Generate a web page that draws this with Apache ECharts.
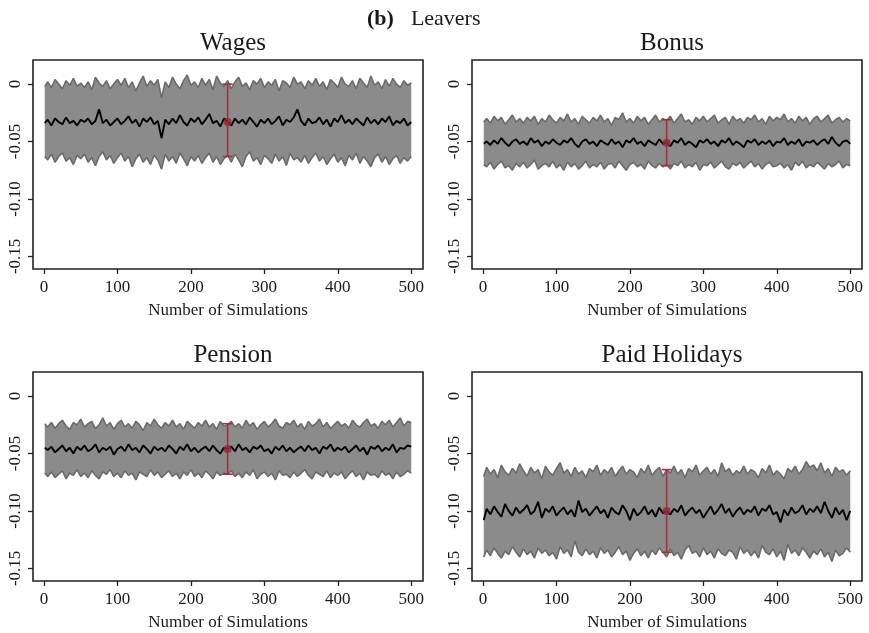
<!DOCTYPE html>
<html>
<head>
<meta charset="utf-8">
<script src="https://cdn.jsdelivr.net/npm/echarts@6/dist/echarts.min.js"></script>
<style>
  html, body { margin: 0; padding: 0; background: #fff; }
  #chart { width: 869px; height: 633px; }
</style>
</head>
<body>
<div id="chart"></div>
<script>
/* Leavers: estimates across 500 simulations, band = 95% CI per simulation.
   Values below are in thousandths (-33 => -0.033)
   every 5th simulation. */
;(function() {
  'use strict';

  var panelTitles = ['Wages', 'Bonus', 'Pension', 'Paid Holidays'];
  var xTicks = [0, 100, 200, 300, 400, 500];
  var yTicks = [0, -0.05, -0.10, -0.15];

  // point estimate + CI shown in red at simulation 250
  var markerSim = 250;
  var estimates = [-0.033, -0.051, -0.046, -0.100];
  var ciLower = [-0.063, -0.071, -0.068, -0.136];
  var ciUpper = [0.000, -0.031, -0.024, -0.064];

  var wagesMean = [-34,
    -31,-36,-30,-33,-35,-29,-34,-32,-36,-31,
    -33,-30,-35,-32,-22,-34,-31,-36,-33,-30,
    -35,-32,-28,-34,-31,-37,-30,-33,-29,-35,
    -32,-47,-31,-35,-30,-34,-27,-33,-36,-30,
    -33,-29,-35,-31,-26,-34,-32,-37,-30,-33,
    -36,-30,-34,-31,-35,-29,-33,-37,-31,-34,
    -30,-35,-32,-28,-36,-31,-33,-29,-22,-32,
    -36,-30,-34,-33,-29,-35,-31,-37,-30,-33,
    -27,-34,-31,-35,-30,-33,-36,-29,-34,-31,
    -35,-30,-33,-28,-36,-32,-34,-30,-36,-33];
  var wagesUpper = [-2,
    2,-3,4,0,-4,3,-1,5,-2,1,
    -3,2,-5,6,1,-2,3,-4,0,4,
    -1,5,-3,2,-6,1,7,-2,3,-1,
    4,-12,2,-3,6,0,-4,3,8,-1,
    2,-3,5,-1,4,-5,7,1,-2,3,
    -4,2,6,-2,1,-5,3,0,5,-3,
    2,-1,4,-6,3,1,-3,6,0,2,
    -4,3,-1,5,-2,2,-5,4,1,-3,
    6,0,-2,3,-4,5,1,-3,7,-1,
    2,-4,4,-2,5,0,-3,3,-1,1];
  var wagesLower = [-63,
    -66,-61,-68,-63,-60,-67,-64,-70,-62,-65,
    -61,-68,-64,-71,-63,-59,-66,-62,-69,-64,
    -60,-67,-63,-72,-65,-61,-68,-64,-70,-62,
    -66,-74,-61,-67,-63,-69,-60,-65,-71,-63,
    -67,-62,-69,-64,-60,-68,-63,-70,-65,-62,
    -68,-61,-66,-72,-63,-59,-67,-64,-70,-62,
    -65,-69,-61,-67,-63,-71,-60,-66,-64,-68,
    -62,-69,-64,-60,-67,-63,-70,-65,-61,-68,
    -64,-71,-62,-66,-60,-69,-63,-67,-72,-64,
    -61,-68,-63,-70,-65,-62,-69,-64,-67,-63];

  var bonusMean = [-52,
    -50,-53,-49,-52,-47,-51,-54,-50,-48,-52,
    -50,-53,-47,-51,-49,-54,-50,-52,-48,-51,
    -53,-49,-51,-47,-52,-55,-50,-48,-52,-50,
    -54,-49,-51,-53,-48,-52,-50,-55,-49,-51,
    -47,-52,-50,-54,-49,-51,-53,-48,-52,-51,
    -54,-49,-51,-47,-53,-50,-52,-55,-49,-51,
    -48,-52,-50,-54,-49,-51,-47,-53,-50,-52,
    -55,-49,-51,-48,-53,-50,-52,-49,-54,-50,
    -51,-47,-53,-50,-52,-48,-54,-50,-51,-49,
    -53,-50,-48,-52,-46,-51,-54,-50,-49,-52];
  var bonusUpper = [-33,
    -30,-34,-28,-32,-29,-35,-31,-27,-33,-30,
    -34,-29,-32,-28,-35,-30,-33,-27,-31,-34,
    -29,-32,-26,-33,-30,-35,-28,-31,-34,-29,
    -32,-27,-33,-30,-36,-29,-31,-25,-33,-30,
    -34,-28,-32,-29,-35,-31,-27,-33,-30,-32,
    -28,-34,-30,-26,-33,-31,-35,-29,-32,-28,
    -33,-30,-27,-34,-31,-29,-35,-28,-32,-30,
    -34,-29,-31,-27,-33,-30,-35,-28,-32,-29,
    -31,-26,-33,-30,-34,-28,-32,-29,-35,-30,
    -28,-33,-30,-27,-34,-31,-29,-33,-30,-32];
  var bonusLower = [-70,
    -72,-68,-74,-70,-67,-73,-71,-75,-69,-72,
    -68,-73,-70,-66,-74,-71,-69,-72,-67,-73,
    -70,-75,-68,-72,-69,-74,-71,-67,-73,-70,
    -72,-68,-74,-70,-69,-73,-67,-71,-75,-70,
    -68,-72,-70,-74,-67,-71,-73,-69,-72,-70,
    -74,-69,-71,-67,-73,-70,-72,-68,-75,-70,
    -71,-68,-73,-70,-67,-72,-74,-69,-71,-68,
    -73,-70,-67,-72,-69,-74,-70,-68,-72,-71,
    -69,-73,-70,-75,-68,-71,-67,-73,-70,-72,
    -68,-71,-74,-69,-72,-70,-67,-73,-70,-71];

  var pensionMean = [-45,
    -47,-44,-49,-46,-43,-48,-45,-50,-44,-47,
    -43,-48,-46,-42,-49,-45,-47,-44,-51,-46,
    -44,-48,-42,-47,-45,-49,-43,-46,-50,-44,
    -47,-45,-48,-43,-46,-50,-44,-47,-42,-48,
    -45,-49,-46,-44,-48,-43,-47,-50,-45,-46,
    -44,-48,-42,-47,-45,-49,-44,-46,-43,-48,
    -46,-50,-44,-47,-43,-48,-45,-49,-46,-44,
    -48,-43,-47,-45,-50,-44,-46,-42,-48,-45,
    -47,-44,-49,-46,-43,-48,-45,-51,-44,-46,
    -43,-48,-45,-47,-42,-49,-45,-46,-43,-44];
  var pensionUpper = [-24,
    -27,-23,-28,-24,-21,-26,-29,-23,-25,-20,
    -27,-24,-22,-28,-25,-19,-26,-23,-29,-24,
    -21,-27,-24,-28,-22,-25,-30,-23,-26,-20,
    -25,-28,-23,-26,-21,-27,-24,-29,-22,-25,
    -28,-23,-26,-21,-27,-24,-29,-22,-26,-25,
    -22,-27,-24,-28,-21,-26,-23,-29,-25,-22,
    -27,-24,-20,-26,-28,-23,-25,-21,-27,-24,
    -29,-22,-26,-24,-20,-27,-23,-28,-25,-22,
    -26,-24,-28,-21,-25,-27,-23,-20,-26,-24,
    -28,-22,-25,-21,-27,-23,-19,-26,-22,-23];
  var pensionLower = [-67,
    -70,-66,-71,-68,-65,-72,-67,-69,-64,-70,
    -67,-71,-65,-69,-72,-66,-68,-64,-70,-67,
    -71,-65,-69,-67,-73,-66,-68,-70,-64,-69,
    -66,-71,-68,-65,-70,-67,-72,-66,-69,-64,
    -70,-67,-71,-65,-68,-72,-66,-69,-67,-68,
    -65,-70,-67,-71,-66,-69,-64,-72,-68,-66,
    -70,-67,-73,-65,-69,-68,-71,-66,-70,-67,
    -64,-69,-72,-66,-68,-70,-65,-71,-67,-69,
    -66,-72,-68,-65,-70,-67,-73,-66,-69,-68,
    -71,-65,-69,-67,-72,-66,-70,-68,-65,-67];

  var holidaysMean = [-108,
    -98,-103,-96,-101,-105,-94,-100,-104,-97,-102,
    -99,-95,-103,-100,-92,-106,-98,-101,-96,-104,
    -100,-97,-103,-99,-105,-91,-101,-98,-104,-100,
    -96,-102,-99,-106,-97,-101,-103,-95,-100,-108,
    -98,-104,-101,-96,-103,-99,-105,-97,-102,-100,
    -103,-98,-101,-95,-104,-100,-97,-102,-99,-106,
    -101,-96,-103,-99,-94,-102,-98,-105,-100,-97,
    -103,-99,-101,-96,-104,-98,-100,-95,-103,-101,
    -110,-99,-104,-97,-102,-100,-95,-103,-98,-101,
    -96,-102,-92,-100,-106,-97,-103,-99,-108,-100];
  var holidaysUpper = [-70,
    -62,-68,-64,-71,-60,-66,-69,-63,-67,-59,
    -65,-70,-62,-67,-64,-72,-61,-66,-69,-63,
    -58,-67,-64,-70,-62,-68,-65,-71,-63,-66,
    -60,-69,-64,-67,-62,-70,-65,-61,-68,-64,
    -66,-71,-63,-67,-60,-69,-65,-62,-70,-64,
    -67,-61,-68,-64,-71,-63,-66,-60,-69,-65,
    -62,-68,-64,-70,-58,-66,-63,-69,-65,-67,
    -61,-68,-64,-66,-71,-63,-67,-60,-69,-65,
    -68,-72,-63,-66,-61,-68,-64,-57,-62,-60,
    -65,-58,-67,-63,-70,-62,-66,-64,-69,-65];
  var holidaysLower = [-140,
    -134,-139,-132,-137,-141,-135,-138,-131,-136,-140,
    -133,-138,-135,-141,-132,-137,-134,-139,-136,-142,
    -131,-137,-134,-140,-126,-136,-139,-133,-138,-135,
    -141,-132,-137,-134,-140,-136,-131,-138,-135,-143,
    -137,-133,-139,-135,-141,-134,-138,-132,-136,-140,
    -133,-139,-136,-142,-134,-130,-137,-135,-140,-132,
    -138,-135,-141,-133,-137,-139,-134,-136,-142,-131,
    -137,-134,-139,-135,-141,-130,-136,-138,-133,-140,
    -135,-143,-129,-137,-134,-139,-132,-136,-141,-135,
    -138,-133,-140,-136,-144,-134,-139,-137,-132,-136];

  var meanSeries = [wagesMean, bonusMean, pensionMean, holidaysMean];
  var upperSeries = [wagesUpper, bonusUpper, pensionUpper, holidaysUpper];
  var lowerSeries = [wagesLower, bonusLower, pensionLower, holidaysLower];

  // simulation number of each stored point (every 5th run, first run is 1)
  var sims = wagesMean.map(function(_, i) { return i === 0 ? 1 : i * 5; });

  var FONT = '"Liberation Serif", "Times New Roman", serif';
  var TXT = '#1a1a1a';
  var BAND = '#8b8b8b';
  var EDGE = '#6a6a6a';
  var RED = '#a3303c';
  var FRAME = '#222';

  var gridBoxes = [
    { left: 33, top: 60, width: 390, height: 209 },
    { left: 472, top: 60, width: 390, height: 209 },
    { left: 33, top: 372, width: 390, height: 209 },
    { left: 472, top: 372, width: 390, height: 209 },
  ];

  function pts(arr) {
    return arr.map(function(v, i) { return [sims[i], v / 1000]; });
  }

  // shaded band between upper and lower bounds, drawn through the axis scales
  function bandRenderer(up, lo) {
    return function(params, api) {
      var poly = [], i;
      for (i = 0; i < up.length; i++) poly.push(api.coord([sims[i], up[i] / 1000]));
      for (i = lo.length - 1; i >= 0; i--) poly.push(api.coord([sims[i], lo[i] / 1000]));
      return { type: 'polygon', shape: { points: poly }, style: { fill: BAND } };
    };
  }

  var grids = [], xAxes = [], yAxes = [], series = [], titles = [];

  titles.push({
    text: '{b|(b)}Leavers',
    left: 362, top: 3, textAlign: 'left',
    textStyle: {
      fontFamily: FONT, fontSize: 22, fontWeight: 'normal', color: TXT,
      rich: { b: { fontFamily: FONT, fontSize: 22, fontWeight: 'bold', color: TXT, padding: [0, 17, 0, 0] } },
    },
  });

  gridBoxes.forEach(function(g, k) {
    grids.push({
      left: g.left, top: g.top, width: g.width, height: g.height,
      show: true, borderColor: FRAME, borderWidth: 1.6, backgroundColor: 'transparent',
    });

    titles.push({
      text: panelTitles[k],
      left: g.left + g.width / 2, top: g.top - 34, textAlign: 'center',
      textStyle: { fontFamily: FONT, fontSize: 25, fontWeight: 'normal', color: TXT },
    });

    xAxes.push({
      type: 'value', gridIndex: k, min: -15, max: 516,
      name: 'Number of Simulations', nameLocation: 'middle', nameGap: 33,
      nameTextStyle: { fontFamily: FONT, fontSize: 17, color: TXT },
      axisLine: { show: false, onZero: false },
      axisTick: { show: true, length: 5, customValues: xTicks, lineStyle: { color: FRAME, width: 1.3 } },
      axisLabel: { customValues: xTicks, margin: 10, fontFamily: FONT, fontSize: 17, color: TXT },
      splitLine: { show: false },
    });

    yAxes.push({
      type: 'value', gridIndex: k, min: -0.161, max: 0.021,
      axisLine: { show: false, onZero: false },
      axisTick: { show: true, length: 5, customValues: yTicks, lineStyle: { color: FRAME, width: 1.3 } },
      axisLabel: {
        customValues: yTicks, rotate: 90, margin: 9,
        fontFamily: FONT, fontSize: 17, color: TXT,
        formatter: function(v) { return v === 0 ? '0' : v.toFixed(2); },
      },
      splitLine: { show: false },
    });

    series.push({
      type: 'custom', xAxisIndex: k, yAxisIndex: k, z: 1,
      data: [[markerSim, estimates[k]]],
      renderItem: bandRenderer(upperSeries[k], lowerSeries[k]),
    });
    series.push({
      type: 'line', xAxisIndex: k, yAxisIndex: k, data: pts(upperSeries[k]),
      symbol: 'none', z: 2, lineStyle: { color: EDGE, width: 1.6 },
    });
    series.push({
      type: 'line', xAxisIndex: k, yAxisIndex: k, data: pts(lowerSeries[k]),
      symbol: 'none', z: 2, lineStyle: { color: EDGE, width: 1.6 },
    });
    series.push({
      type: 'line', xAxisIndex: k, yAxisIndex: k, data: pts(meanSeries[k]),
      symbol: 'none', z: 3, lineStyle: { color: '#000', width: 1.9 },
    });
    series.push({
      type: 'custom', xAxisIndex: k, yAxisIndex: k, z: 4,
      data: [[markerSim, ciLower[k], ciUpper[k]]],
      renderItem: function(params, api) {
        var lo = api.coord([api.value(0), api.value(1)]);
        var hi = api.coord([api.value(0), api.value(2)]);
        var cap = 5;
        var st = { stroke: RED, lineWidth: 1.6 };
        return {
          type: 'group',
          children: [
            { type: 'line', shape: { x1: lo[0], y1: lo[1], x2: hi[0], y2: hi[1] }, style: st },
            { type: 'line', shape: { x1: lo[0] - cap, y1: lo[1], x2: lo[0] + cap, y2: lo[1] }, style: st },
            { type: 'line', shape: { x1: hi[0] - cap, y1: hi[1], x2: hi[0] + cap, y2: hi[1] }, style: st },
          ],
        };
      },
    });
    series.push({
      type: 'scatter', xAxisIndex: k, yAxisIndex: k, z: 5,
      data: [[markerSim, estimates[k]]],
      symbol: 'circle', symbolSize: 8,
      itemStyle: { color: '#9b2433' },
    });
  });

  var chart = echarts.init(document.getElementById('chart'), null, { renderer: 'canvas' });
  chart.setOption({
    animation: false,
    backgroundColor: '#fff',
    title: titles,
    grid: grids,
    xAxis: xAxes,
    yAxis: yAxes,
    series: series,
  });
})();
</script>
</body>
</html>
